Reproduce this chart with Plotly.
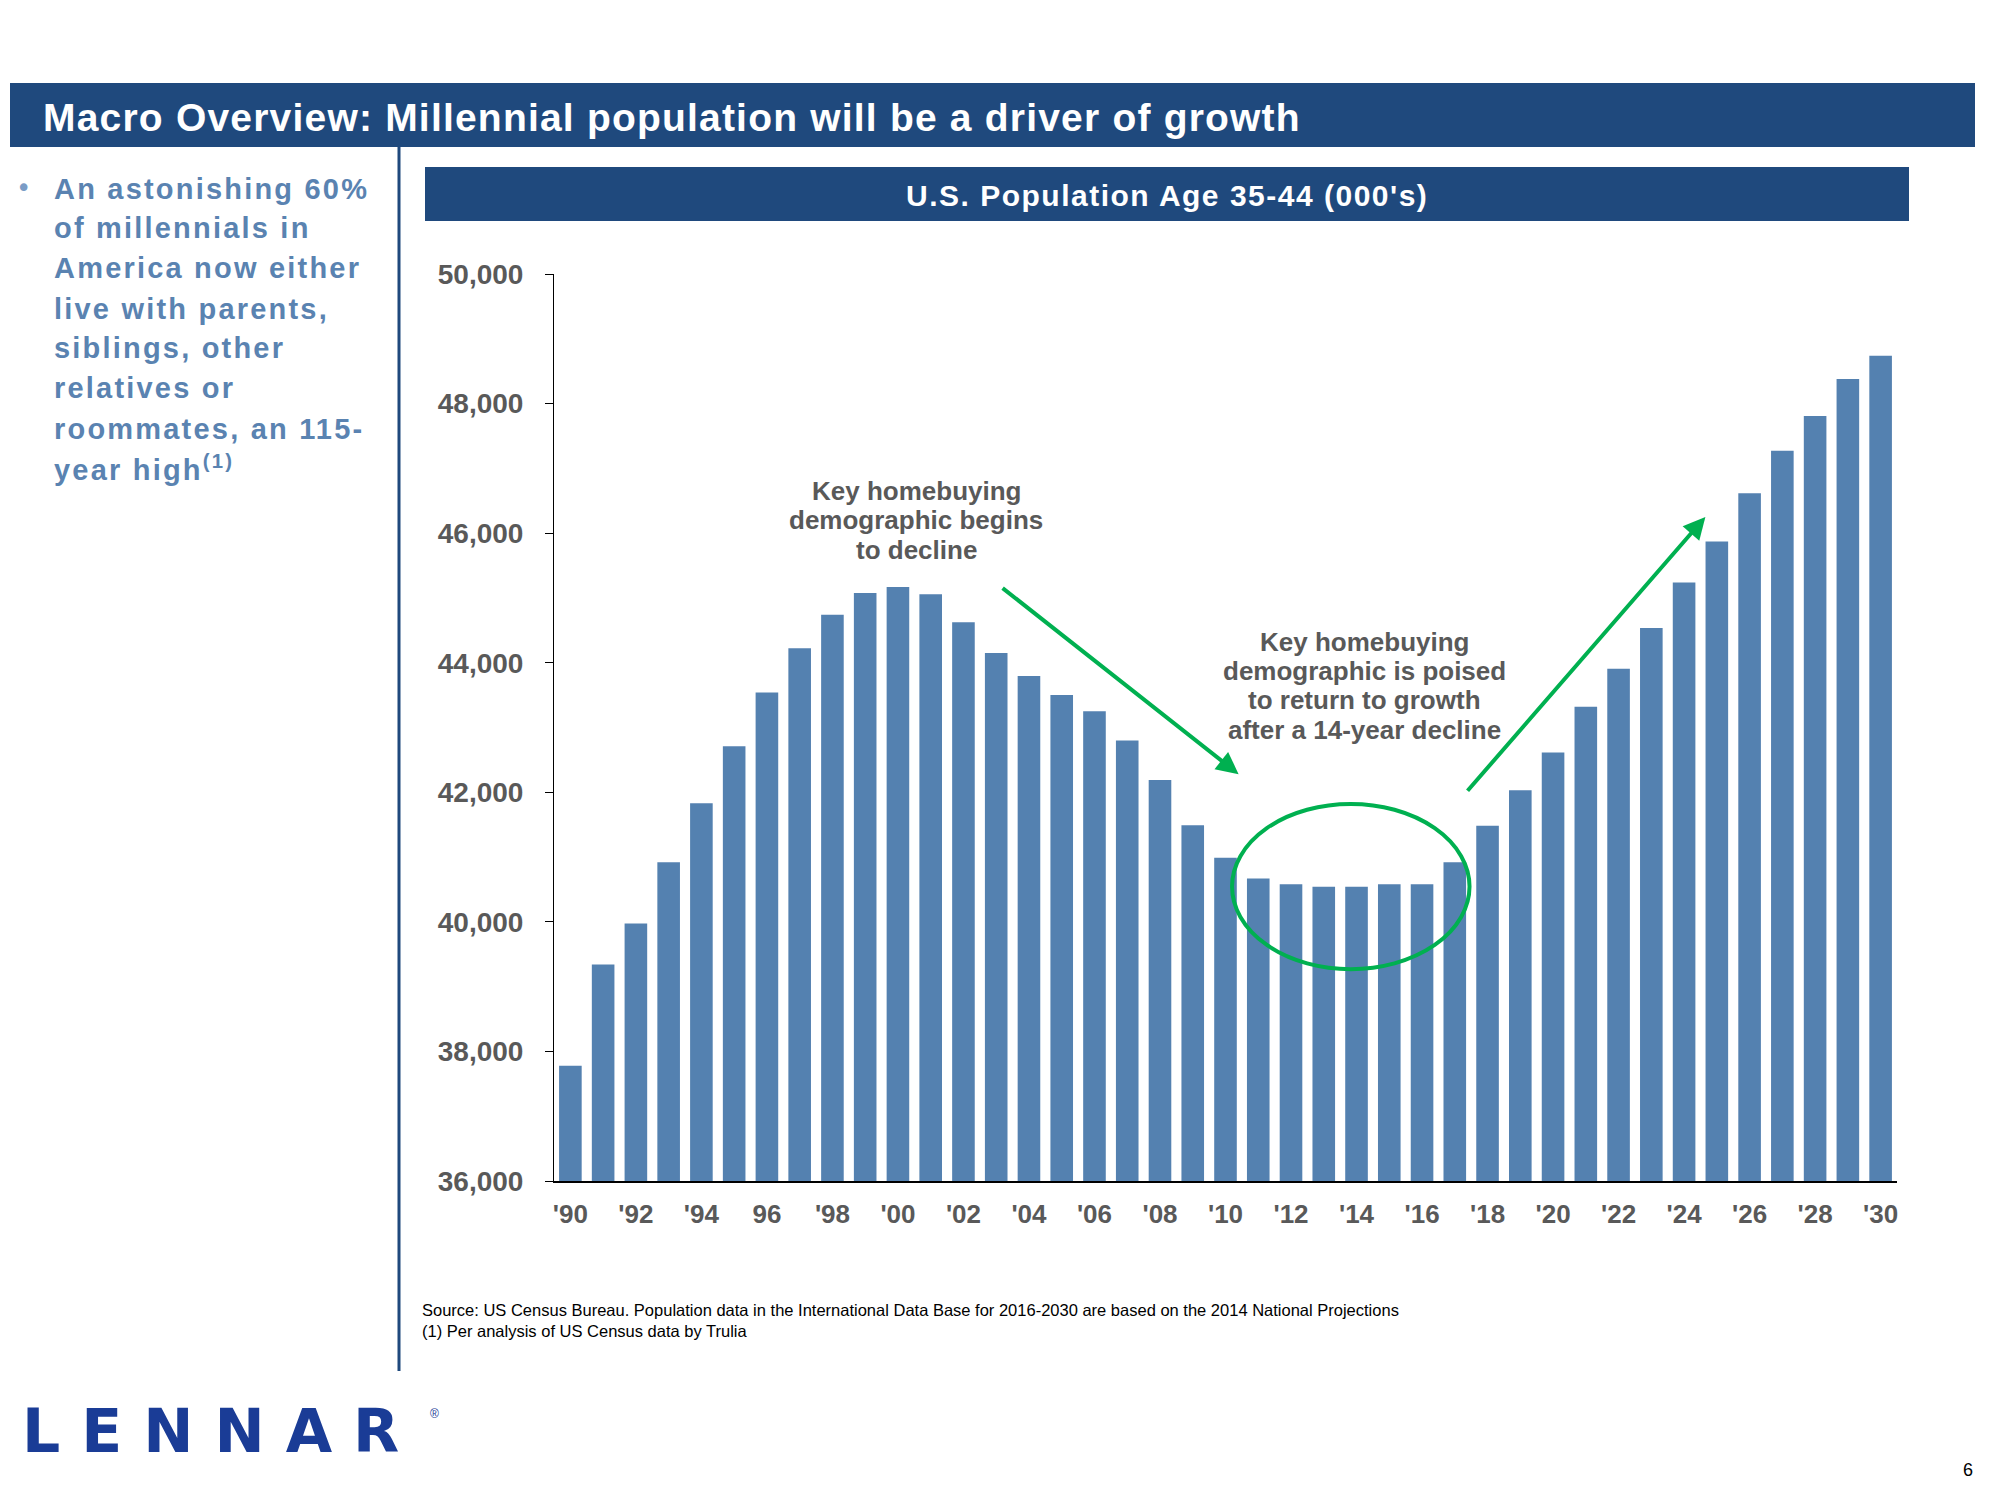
import plotly.graph_objects as go

# ---------------- data ----------------
years = list(range(1990, 2031))
population = [37780, 39340, 39975, 40920, 41830, 42710, 43540, 44225, 44740, 45075,
              45170, 45055, 44625, 44150, 43795, 43500, 43250, 42800, 42190, 41490,
              40990, 40670, 40580, 40540, 40540, 40580, 40580, 40920, 41485, 42030,
              42615, 43320, 43905, 44535, 45240, 45870, 46615, 47270, 47810, 48380,
              48740]
tick_years = list(range(1990, 2031, 2))
tick_labels = ["'90", "'92", "'94", "96", "'98", "'00", "'02", "'04", "'06", "'08", "'10",
               "'12", "'14", "'16", "'18", "'20", "'22", "'24", "'26", "'28", "'30"]
y_ticks = list(range(36000, 50001, 2000))

page_title = "Macro Overview: Millennial population will be a driver of growth"
chart_title = "U.S. Population Age 35-44 (000's)"
bullet_lines = ["An astonishing 60%", "of millennials in", "America now either",
                "live with parents,", "siblings, other", "relatives or",
                "roommates, an 115-", "year high<sup>(1)</sup>"]
note1_lines = ["Key homebuying", "demographic begins", "to decline"]
note2_lines = ["Key homebuying", "demographic is poised", "to return to growth",
               "after a 14-year decline"]
source_lines = ["Source: US Census Bureau. Population data in the International Data Base for 2016-2030 are based on the 2014 National Projections",
                "(1) Per analysis of US Census data by Trulia"]

# ---------------- styles / geometry (page pixels) ----------------
OFF = 8                       # default body margin of the html page
W, H = 2000 - 2 * OFF, 1500 - 2 * OFF
PL, PR, PT, PB = 554, 1897, 274, 1181   # plot area in page pixels
L, R, T, B = PL - OFF, PR - OFF, PT - OFF, PB - OFF
DARK_BLUE = "#1F497D"
BAR_BLUE = "#5481B0"
TEXT_BLUE = "#5A83B1"
GREEN = "#00B050"
GRAY = "#595959"
FONT = "Liberation Sans"


def px(x):
    return (x - OFF - L) / (R - L)


def py(y):
    return (B - (y - OFF)) / (B - T)


def spaced(txt, sp):
    return f'<span style="letter-spacing:{sp}px">{txt}</span>'


fig = go.Figure()
fig.add_trace(go.Bar(x=years, y=population, marker=dict(color=BAR_BLUE, line=dict(width=0)),
                     hoverinfo="x+y"))

shapes = [
    dict(type="rect", xref="paper", yref="paper", x0=px(10), x1=px(1975), y0=py(147), y1=py(83),
         fillcolor=DARK_BLUE, line=dict(width=0)),
    dict(type="rect", xref="paper", yref="paper", x0=px(425), x1=px(1909), y0=py(221), y1=py(167),
         fillcolor=DARK_BLUE, line=dict(width=0)),
    dict(type="line", xref="paper", yref="paper", x0=px(399), x1=px(399), y0=py(147), y1=py(1371),
         line=dict(color=DARK_BLUE, width=3)),
    dict(type="circle", xref="x", yref="y", x0=2010.2, x1=2017.45, y0=39270, y1=41820,
         line=dict(color=GREEN, width=4)),
]

annotations = [
    dict(xref="paper", yref="paper", x=px(41), y=py(117), text=f"<b>{spaced(page_title, 1.2)}</b>",
         showarrow=False, xanchor="left", yanchor="middle",
         font=dict(family=FONT, size=39, color="white")),
    dict(xref="paper", yref="paper", x=px(1167), y=py(195), text=f"<b>{spaced(chart_title, 1.5)}</b>",
         showarrow=False, xanchor="center", yanchor="middle",
         font=dict(family=FONT, size=30, color="white")),
    dict(xref="paper", yref="paper", x=px(14), y=py(188), text="•",
         showarrow=False, xanchor="left", yanchor="middle",
         font=dict(family="DejaVu Sans", size=26, color="#7A9CC6")),
    # arrows
    dict(xref="x", yref="y", axref="x", ayref="y", x=2010.4, y=42280, ax=2003.15, ay=45170,
         showarrow=True, arrowhead=2, arrowsize=1.1, arrowwidth=4, arrowcolor=GREEN, text=""),
    dict(xref="x", yref="y", axref="x", ayref="y", x=2024.65, y=46250, ax=2017.35, ay=42000,
         showarrow=True, arrowhead=2, arrowsize=1.1, arrowwidth=4, arrowcolor=GREEN, text=""),
    # logo & page number
    dict(xref="paper", yref="paper", x=px(20), y=py(1431), text=f"<b>{spaced('LENNAR', 21)}</b>",
         showarrow=False, xanchor="left", yanchor="middle",
         font=dict(family="DejaVu Sans", size=60, color="#1A3C96")),
    dict(xref="paper", yref="paper", x=px(428), y=py(1414), text="®",
         showarrow=False, xanchor="left", yanchor="middle",
         font=dict(family=FONT, size=12, color="#1A3C96")),
    dict(xref="paper", yref="paper", x=px(1975), y=py(1470), text="6",
         showarrow=False, xanchor="right", yanchor="middle",
         font=dict(family=FONT, size=18, color="black")),
]

# left bullet text
line_y = [189, 228, 268, 309, 348, 388, 429, 468]
for txt, yy in zip(bullet_lines, line_y):
    annotations.append(dict(xref="paper", yref="paper", x=px(52), y=py(yy),
                            text=f"<b>{spaced(txt, 2.2)}</b>",
                            showarrow=False, xanchor="left", yanchor="middle",
                            font=dict(family=FONT, size=29, color=TEXT_BLUE)))

# chart callouts (page pixel centres)
for lines, cx, ys in [(note1_lines, 916, [491, 520, 550]),
                      (note2_lines, 1364, [642, 671, 700, 730])]:
    for txt, yy in zip(lines, ys):
        annotations.append(dict(xref="paper", yref="paper", x=px(cx), y=py(yy), text=f"<b>{txt}</b>",
                                showarrow=False, xanchor="center", yanchor="middle",
                                font=dict(family=FONT, size=26, color=GRAY)))

for txt, yy in zip(source_lines, [1310, 1331]):
    annotations.append(dict(xref="paper", yref="paper", x=px(420), y=py(yy), text=txt,
                            showarrow=False, xanchor="left", yanchor="middle",
                            font=dict(family=FONT, size=16.5, color="black")))

fig.update_layout(
    width=W, height=H,
    margin=dict(l=L, r=W - R, t=T, b=H - B, pad=0),
    paper_bgcolor="white", plot_bgcolor="white",
    showlegend=False, bargap=0.31,
    shapes=shapes, annotations=annotations,
    xaxis=dict(range=[1989.5, 2030.5], tickmode="array", tickvals=tick_years, ticktext=tick_labels,
               showgrid=False, zeroline=False, showline=True, linecolor="black", linewidth=1.5,
               ticks="", ticklabelstandoff=9,
               tickfont=dict(family=FONT, size=26, color=GRAY, weight="bold")),
    yaxis=dict(range=[36000, 50000], tickmode="array", tickvals=y_ticks, tickformat=",",
               showgrid=False, zeroline=False, showline=True, linecolor="black", linewidth=1,
               ticks="outside", ticklen=8, tickcolor="black", ticklabelstandoff=16,
               tickfont=dict(family=FONT, size=28, color=GRAY, weight="bold")),
)

fig.write_html("out.html")
